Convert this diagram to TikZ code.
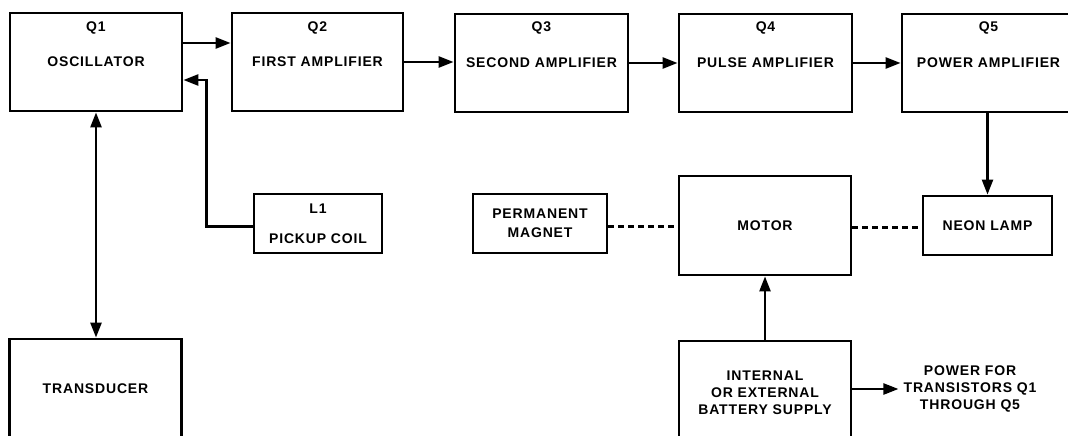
\documentclass[tikz,border=0pt]{standalone}
\usepackage{fontspec}
\setmainfont{Liberation Sans}[LetterSpace=6]
\usetikzlibrary{arrows.meta}
\begin{document}
\begin{tikzpicture}[x=1pt,y=-1pt,
  txt/.style={inner sep=0pt, align=center, font=\fontsize{14}{17}\selectfont\bfseries},
  box/.style={txt, draw, line width=2.8pt},
  conn/.style={line width=2.4pt, -{Triangle[length=15pt,width=11pt]}},
  both/.style={line width=2.4pt, {Triangle[length=15pt,width=11pt]}-{Triangle[length=15pt,width=11pt]}},
  dashline/.style={line width=2.6pt, dash pattern=on 6pt off 4pt}
]
\useasboundingbox (0,0) rectangle (1068,436);
% top row
\node[box, minimum width=172pt, minimum height=98pt] (q1) at (96,62) {OSCILLATOR};
\node[box, minimum width=171pt, minimum height=98pt] (q2) at (317.5,62) {FIRST AMPLIFIER};
\node[box, minimum width=173pt, minimum height=98pt] (q3) at (541.5,63) {SECOND AMPLIFIER};
\node[box, minimum width=173pt, minimum height=98pt] (q4) at (765.5,63) {PULSE AMPLIFIER};
\node[box, minimum width=173pt, minimum height=98pt] (q5) at (988.5,63) {POWER AMPLIFIER};
\node[txt] (t1) at (96,28) {Q1};
\node[txt] (t2) at (317.5,28) {Q2};
\node[txt] (t3) at (541.5,28) {Q3};
\node[txt] (t4) at (765.5,28) {Q4};
\node[txt] (t5) at (988.5,28) {Q5};
% middle row
\node[box, minimum width=128pt, minimum height=59pt] (l1) at (318,223.5) {L1\\[13pt]PICKUP COIL};
\node[box, minimum width=134pt, minimum height=59pt] (pm) at (540,223.5) {PERMANENT\\[2pt]MAGNET};
\node[box, minimum width=172pt, minimum height=99pt] (motor) at (765,225.5) {MOTOR};
\node[box, minimum width=129pt, minimum height=59pt] (neon) at (987.5,225.5) {NEON LAMP};
% bottom row
\node[box, minimum width=172pt, minimum height=100pt] (trans) at (95.5,389) {TRANSDUCER};
\node[box, minimum width=172pt, minimum height=104pt] (batt) at (765,393) {INTERNAL\\OR EXTERNAL\\BATTERY SUPPLY};
\node[txt, inner xsep=5pt] (power) at (970,389) {POWER FOR\\TRANSISTORS Q1\\THROUGH Q5};
% connectors
\draw[conn] ([yshift=19pt]q1.east) -- ([yshift=19pt]q1.east -| q2.west);
\draw[conn] (q2.east) -- (q2.east -| q3.west);
\draw[conn] (q3) -- (q4);
\draw[conn] (q4) -- (q5);
\draw[conn] ([yshift=-3pt]l1.west) -- ++(-46,0) |- ([yshift=-18pt]q1.east);
\draw[both] (q1.south) -- (q1.south |- trans.north);
\draw[conn] (q5.south -| neon.north) -- (neon.north);
\draw[dashline] ([yshift=-3pt]pm.east) -- ([yshift=-3pt]pm.east -| motor.west);
\draw[dashline] ([yshift=-2pt]motor.east) -- ([yshift=-2pt]motor.east -| neon.west);
\draw[conn] (batt.north) -- (motor.south);
\draw[conn] (batt.east |- power.west) -- (power.west);
\end{tikzpicture}
\end{document}
